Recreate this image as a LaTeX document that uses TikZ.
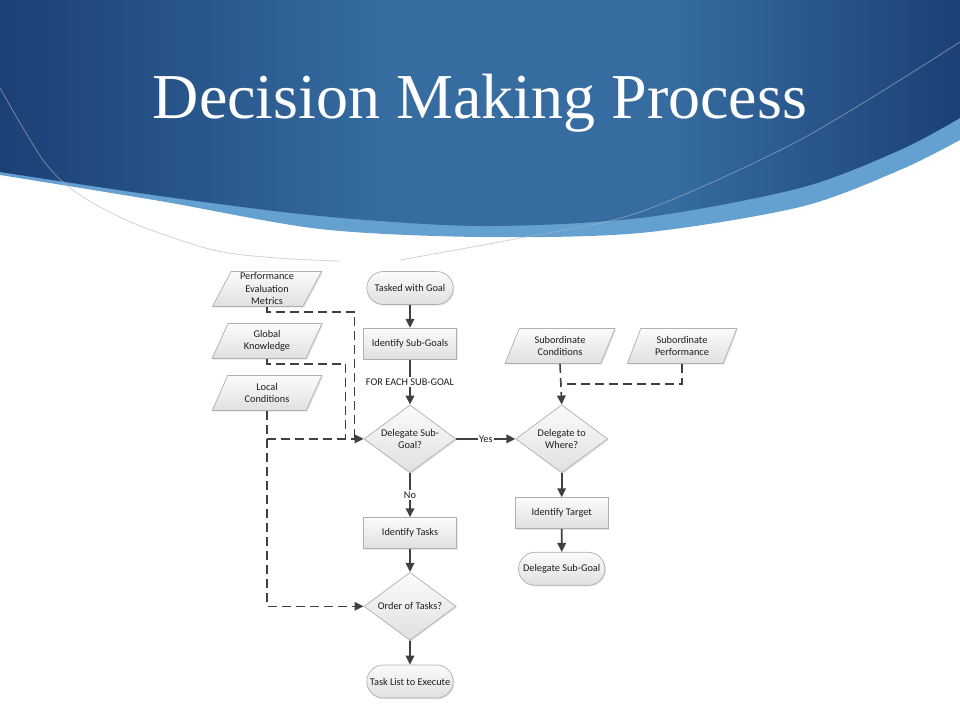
\documentclass[tikz,border=0pt]{standalone}
\usepackage{fontspec}
\setmainfont{Carlito}
\newfontfamily\titleserif{Liberation Serif}
\usetikzlibrary{arrows.meta,calc,positioning,shapes.geometric,shapes.misc,shadows}
\definecolor{bandblue}{RGB}{27,64,118}
\definecolor{midblue}{RGB}{54,108,160}
\definecolor{lightband}{RGB}{100,160,208}
\definecolor{arcgray}{RGB}{175,180,190}
\definecolor{linegray}{RGB}{64,64,64}
\definecolor{boxedge}{RGB}{175,175,175}
\definecolor{boxtop}{RGB}{251,251,251}
\definecolor{boxbot}{RGB}{224,224,224}
\definecolor{inkgray}{RGB}{30,30,30}
\pgfdeclarehorizontalshading{headshade}{100bp}{color(0bp)=(bandblue); color(25bp)=(bandblue);
  color(45bp)=(midblue); color(60bp)=(midblue); color(75bp)=(bandblue); color(100bp)=(bandblue)}
\newcommand{\flowfont}{\fontsize{10.3}{12.5}\selectfont}

\begin{document}
\begin{tikzpicture}[
      x=1pt, y=-1pt,
      box/.style={draw=boxedge, line width=0.7pt, top color=boxtop, bottom color=boxbot,
        text=inkgray, align=center, font=\flowfont,
        drop shadow={shadow xshift=1.2pt, shadow yshift=-1.2pt, opacity=0.2}},
      term/.style={box, rounded rectangle, minimum width=93pt, minimum height=33pt},
      proc/.style={box, rectangle, minimum width=93pt, minimum height=31pt},
      decis/.style={box, diamond, aspect=1.4, minimum width=92pt, minimum height=68pt, inner sep=0pt},
      datain/.style={box, trapezium, trapezium left angle=67, trapezium right angle=113,
        trapezium stretches=true, minimum width=110pt, minimum height=35pt, inner sep=1pt},
      arr/.style={-{Triangle[length=9pt,width=8.5pt]}, line width=1.8pt, linegray},
      dsh/.style={line width=1.6pt, linegray, dash pattern=on 9pt off 5pt},
      dtip/.style={-{Triangle[length=9pt,width=8.5pt]}},
      lbl/.style={fill=white, inner sep=1.5pt, font=\flowfont, text=inkgray},
      arcline/.style={arcgray, line width=0.8pt, opacity=0.6}
    ]
    \useasboundingbox (0,0) rectangle (960,720);

    % header band
    \fill[lightband] (0,0) -- (960,0) -- plot[smooth] coordinates {(960,140) (900,170) (800,207)
      (640,233) (480,237) (320,229) (160,201) (0,175)} -- cycle;
    \shade[shading=headshade] (0,0) -- (960,0) -- plot[smooth] coordinates {(960,118) (900,150)
      (800,188) (640,218) (480,226) (320,216) (160,196) (0,172)} -- cycle;
    \draw[arcline] plot[smooth] coordinates {(0,88) (43,160) (77,193) (133,223) (213,250) (277,258) (340,261)};
    \draw[arcline] plot[smooth] coordinates {(400,260) (520,238) (640,212) (800,140) (960,42)};
    \node[font=\titleserif\fontsize{64}{64}\selectfont, text=white, anchor=base] (title)
      at (480,118) {Decision Making Process};

    % main column
    \node[term] (goal) at (410,288) {Tasked with Goal};
    \node[proc, below=23pt of goal] (subgoals) {Identify Sub-Goals};
    \node[decis, below=45pt of subgoals] (deleg) {Delegate Sub-\\Goal?};
    \node[proc, below=44pt of deleg] (tasks) {Identify Tasks};
    \node[decis, below=23pt of tasks] (order) {Order of Tasks?};
    \node[term, below=24pt of order] (tasklist) {Task List to Execute};

    % delegation branch
    \node[decis, right=59pt of deleg] (where) {Delegate to\\Where?};
    \node[proc, below=24pt of where] (target) {Identify Target};
    \node[term, below=23pt of target] (delsub) {Delegate Sub-Goal};

    % inputs
    \node[datain] (subcond) at (560,346) {Subordinate\\Conditions};
    \node[datain] (subperf) at (682,346) {Subordinate\\Performance};
    \node[datain] (perf) at (267,289) {Performance\\Evaluation\\Metrics};
    \node[datain] (glob) at (267,341) {Global\\Knowledge};
    \node[datain] (local) at (267,393) {Local\\Conditions};

    \draw[arr] (goal) -- (subgoals);
    \draw[arr] (subgoals) -- node[lbl] {FOR EACH SUB-GOAL} (deleg);
    \draw[arr] (deleg) -- node[lbl] {No} (tasks);
    \draw[arr] (tasks) -- (order);
    \draw[arr] (order) -- (tasklist);
    \draw[arr] (deleg) -- node[lbl] {Yes} (where);
    \draw[arr] (where) -- (target);
    \draw[arr] (target) -- (delsub);

    \coordinate (pjoin) at ([xshift=-9pt]deleg.west);
    \coordinate (gjoin) at ([xshift=-18pt]deleg.west);
    \coordinate (cjoin) at ($(subcond.south)!0.5!(where.north)$);
    \draw[dsh] (perf.south) -- ++(0,5) -| (pjoin);
    \draw[dsh] (glob.south) -- ++(0,5) -| (gjoin);
    \draw[dsh, dtip] (local.south) |- (order.west);
    \draw[dsh, dtip] (local.south |- deleg.west) -- (deleg.west);
    \draw[dsh, dtip] (subcond.south) -- (where.north);
    \draw[dsh] (subperf.south) |- (cjoin);
  \end{tikzpicture}
\end{document}
